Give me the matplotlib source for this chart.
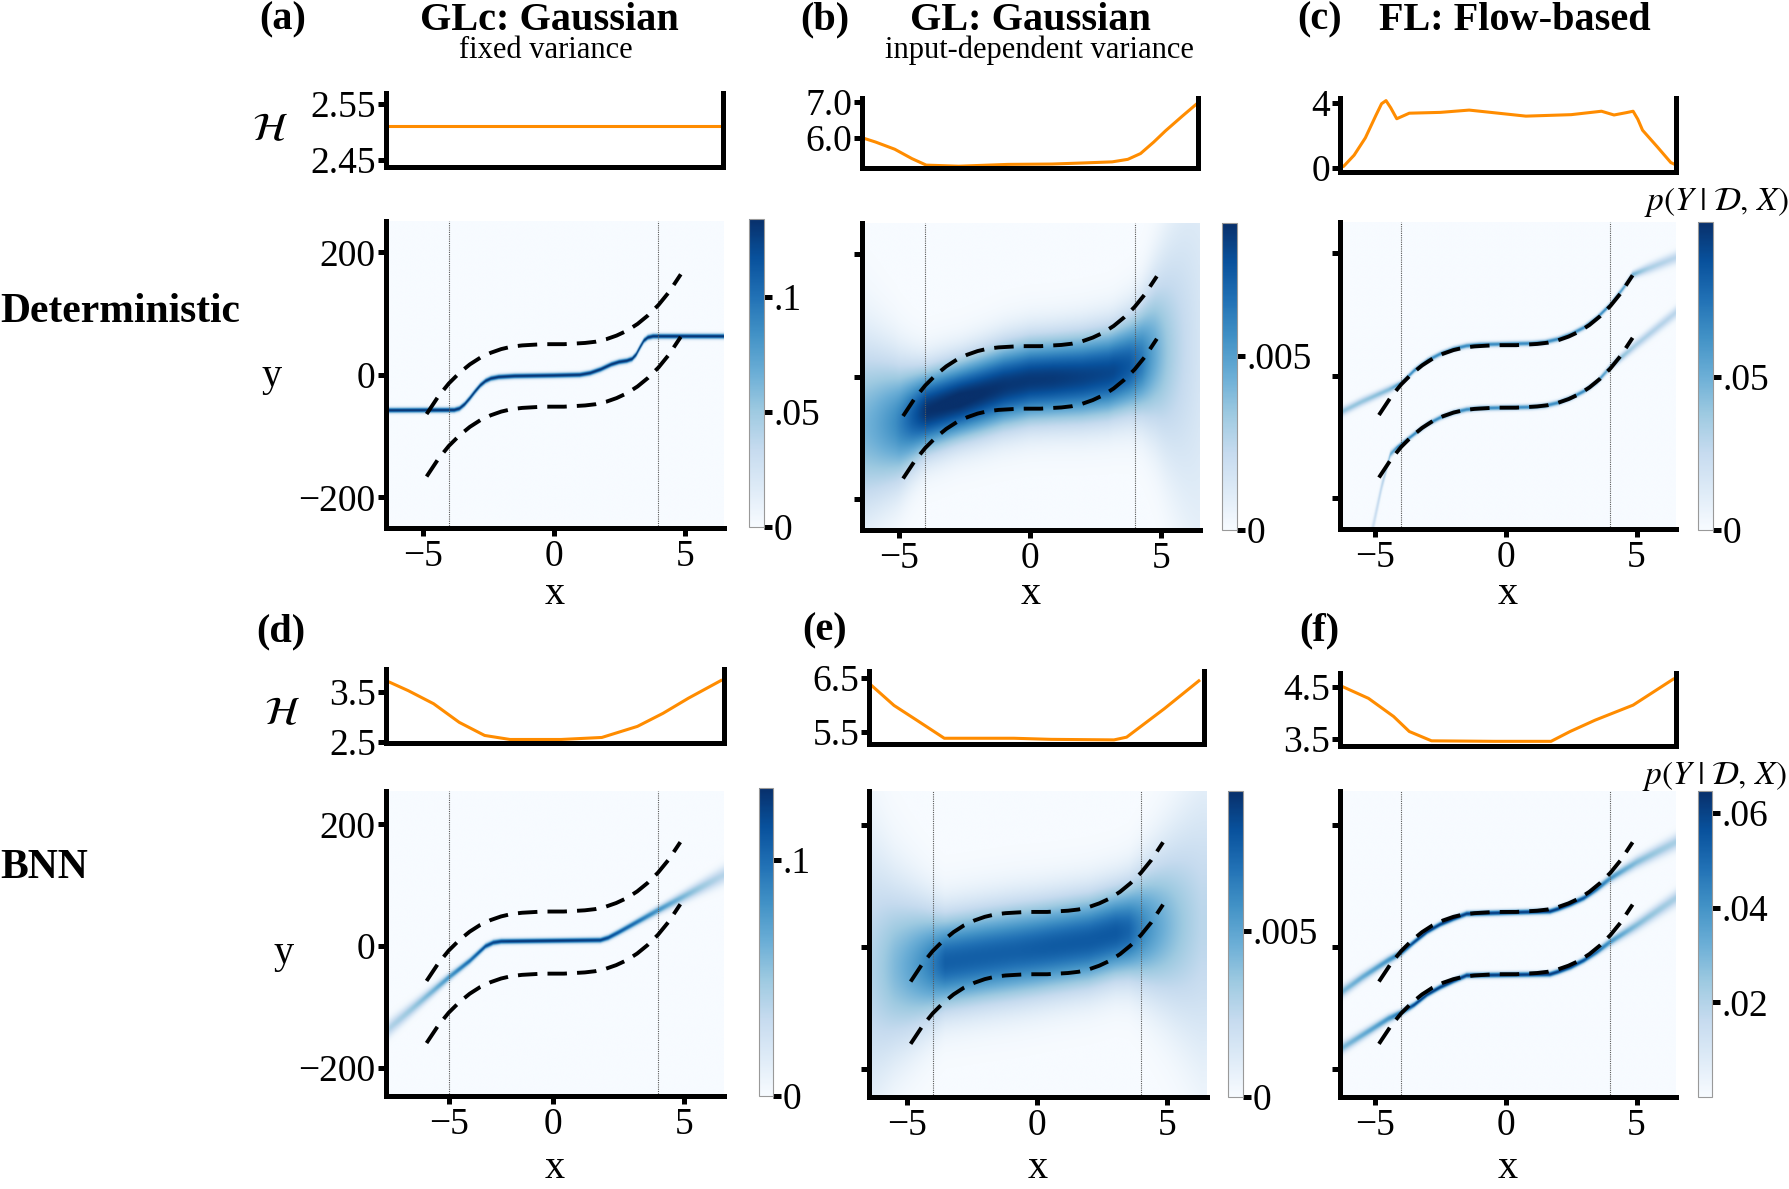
import numpy as np
import matplotlib
matplotlib.use("Agg")
import matplotlib.pyplot as plt

plt.rcParams['font.family'] = ['Liberation Serif', 'DejaVu Serif']
plt.rcParams['mathtext.fontset'] = 'stix'

FIG_W, FIG_H = 1790, 1189

# ------------------------------------------------------------------ data
# dashed curves = the two true modes: centre +/- gap
mode_x = [-4.85, -4.4, -4.0, -3.6, -3.2, -2.8, -2.4, -2.0, -1.6, -1.2, -0.8, -0.4,
          0.0, 0.4, 0.8, 1.2, 1.6, 2.0, 2.4, 2.8, 3.2, 3.6, 4.0, 4.4, 4.85]
mode_centre = [-114, -85, -64, -47, -33, -22, -14, -8, -4, -2, -1, 0,
               0, 0, 1, 2, 4, 8, 14, 22, 33, 47, 64, 85, 114]
mode_gap = 51
mode_shift_top = -1
mode_shift_bottom = 6
train_edges = [-4, 4]

# entropy curves H(x)
ent_a_x = [-6.4, 6.5]
ent_a = [2.51, 2.51]
ent_b_x = [-6.42, -5.9, -5.16, -4.5, -3.95, -2.7, -0.8, 0.89, 2.1, 3.2, 3.8, 4.29, 4.8, 5.25, 5.9, 6.47]
ent_b = [6.0, 5.88, 5.68, 5.42, 5.24, 5.21, 5.26, 5.27, 5.3, 5.33, 5.4, 5.56, 5.88, 6.19, 6.6, 6.95]
ent_c_x = [-6.34, -6.2, -5.8, -5.37, -4.96, -4.75, -4.58, -4.4, -4.17, -3.69, -2.5, -1.4,
           0.77, 2.5, 3.66, 4.14, 4.6, 4.87, 5.05, 5.23, 5.8, 6.31, 6.51]
ent_c = [0.02, 0.12, 0.8, 1.86, 3.26, 3.95, 4.14, 3.7, 3.03, 3.37, 3.42, 3.56,
         3.19, 3.28, 3.49, 3.26, 3.4, 3.49, 3.0, 2.33, 1.3, 0.35, 0.2]
ent_d_x = [-6.4, -5.55, -4.58, -3.6, -2.63, -1.66, 0.29, 1.85, 3.21, 4.19, 5.16, 6.4]
ent_d = [3.72, 3.52, 3.26, 2.89, 2.63, 2.55, 2.55, 2.59, 2.81, 3.07, 3.37, 3.72]
ent_e_x = [-6.41, -5.48, -4.63, -3.53, -0.83, 0.61, 3.05, 3.54, 5.0, 6.34]
ent_e = [6.38, 5.99, 5.73, 5.39, 5.39, 5.37, 5.36, 5.41, 5.93, 6.44]
ent_f_x = [-6.3, -5.25, -4.29, -3.69, -2.84, -0.44, 1.73, 2.46, 3.42, 4.87, 6.4]
ent_f = [4.52, 4.28, 3.93, 3.64, 3.46, 3.45, 3.45, 3.64, 3.86, 4.15, 4.65]

# predictive means of the Gaussian models
mean_a_x = [-6.4, -3.8, -3.6, -3.4, -3.2, -3.0, -2.8, -2.6, -2.4, -2.1, -1.5, 0.0, 1.0,
            1.4, 1.8, 2.2, 2.5, 2.8, 3.0, 3.15, 3.3, 3.45, 3.6, 3.8, 6.5]
mean_a = [-58, -57.5, -55, -48, -38, -27, -17, -10, -6, -3.5, -2, -1, 0,
          3, 9, 17, 21, 23, 26, 33, 45, 56, 61, 63, 63]
mean_b_x = [-6.42, -5.0, -4.0, -3.0, -2.0, -1.0, 0.0, 1.0, 2.0, 3.0, 4.0, 4.8, 6.5]
mean_b = [-80, -75, -56, -42, -29, -15, -6, -3, 0, 6, 21, 38, 50]
mean_d_x = [-6.4, -4.0, -3.2, -2.9, -2.6, -2.3, -2.0, 1.8, 2.1, 2.5, 4.0, 6.52]
mean_d = [-139, -51, -24, -12, 0, 6, 8, 10, 14, 23, 59, 117]
mean_e_x = [-6.45, -5.0, -4.0, -2.0, 0.0, 2.0, 3.0, 4.0, 5.0, 6.54]
mean_e = [-35, -32, -28, -15, -3, 10, 22, 30, 35, 40]

# flow models: two branches (mean and spread)
flow_c_up_x = [-6.34, -5.5, -4.5, -4.0, -3.5, -3.0, -2.5, -2.0, -1.5, -1.0, 0.0,
               1.0, 1.5, 2.0, 2.5, 3.0, 3.5, 4.0, 4.5, 4.85, 5.5, 6.51]
flow_c_up = [-60, -42, -23, -12, 9, 25, 36, 44, 49, 51, 52,
             53, 55, 60, 68, 79, 95, 116, 143, 165, 176, 193]
flow_c_up_sd = [5, 5, 4.5, 3, 3, 3, 3, 3, 3, 3, 3,
                3, 3, 3, 3, 3, 3, 3, 3.5, 4, 6, 7]
flow_c_lo_x = [-6.34, -5.2, -5.06, -4.75, -4.42, -4.16, -3.5, -3.0, -2.5, -2.0, -1.5,
               -1.0, 0.0, 1.0, 1.5, 2.0, 2.5, 3.0, 3.5, 4.04, 5.0, 6.51]
flow_c_lo = [-420, -270, -242, -180, -128, -117, -95, -79, -68, -60, -55,
             -53, -52, -51, -49, -44, -36, -25, -10, 16, 51, 103]
flow_c_lo_sd = [10, 10, 9, 7, 4, 3, 3, 3, 3, 3, 3,
                3, 3, 3, 3, 3, 3, 3, 3, 4, 6, 7]

flow_f_x = [-6.5, -5.5, -4.5, -4.0, -3.5, -3.0, -2.5, -2.0, -1.5, 1.7, 2.0,
            2.5, 3.0, 3.5, 4.0, 5.0, 6.5]
flow_f_up = [-81, -50, -22, -10, 8, 25, 37, 46, 54, 58, 62,
             70, 80, 95, 112, 138, 171]
flow_f_lo = [-172, -145, -118, -108, -95, -78, -66, -56, -47, -45, -41,
             -33, -22, -8, 8, 35, 79]
flow_f_sd = [7, 6, 5, 4, 3.3, 3.2, 3.2, 3.2, 3.2, 3.2, 3.2,
             3.3, 3.5, 4, 5, 7, 9]

# colour-bar ranges and ticks
vmax_a, vmax_b, vmax_c = 0.134, 0.0088, 0.1007
vmax_d, vmax_e, vmax_f = 0.1304, 0.0092, 0.0647
cb_ticks_a, cb_labels_a = [0, 0.05, 0.1], ['0', '.05', '.1']
cb_ticks_b, cb_labels_b = [0, 0.005], ['0', '.005']
cb_ticks_c, cb_labels_c = [0, 0.05], ['0', '.05']
cb_ticks_d, cb_labels_d = [0, 0.1], ['0', '.1']
cb_ticks_e, cb_labels_e = [0, 0.005], ['0', '.005']
cb_ticks_f, cb_labels_f = [0.02, 0.04, 0.06], ['.02', '.04', '.06']

# entropy axis ticks
ent_ticks_a, ent_labels_a = [2.45, 2.55], ['2.45', '2.55']
ent_ticks_b, ent_labels_b = [6.0, 7.0], ['6.0', '7.0']
ent_ticks_c, ent_labels_c = [0, 4], ['0', '4']
ent_ticks_d, ent_labels_d = [2.5, 3.5], ['2.5', '3.5']
ent_ticks_e, ent_labels_e = [5.5, 6.5], ['5.5', '6.5']
ent_ticks_f, ent_labels_f = [3.5, 4.5], ['3.5', '4.5']

y_ticks = [-200, 0, 200]
y_labels = ['\u2212200', '0', '200']
x_ticks = [-5, 0, 5]
x_ticks_d = [-4, 0, 5]          # panel (d) has its "-5" tick on the x=-4 line
x_labels = ['\u22125', '0', '5']

# ------------------------------------------------------------------ helpers
LOG_2PIE = 0.5 * np.log(2 * np.pi * np.e)
ORANGE = '#ff8c00'
SPINE_W = 3.6
TICK_FS = 27


def px_rect(l, t, r, b):
    return [l / FIG_W, 1 - b / FIG_H, (r - l) / FIG_W, (b - t) / FIG_H]


def ftext(x, y, s, **kw):
    fig.text(x / FIG_W, 1 - y / FIG_H, s, ha=kw.pop('ha', 'center'),
             va=kw.pop('va', 'center'), **kw)


def gauss(gy, mu, sd):
    return (np.exp(-0.5 * ((gy[:, None] - mu[None, :]) / sd[None, :]) ** 2)
            / (sd[None, :] * np.sqrt(2 * np.pi)))


def gaussian_density(gx, gy, mx, my, ex, ey):
    mu = np.interp(gx, mx, my)
    sd = np.exp(np.interp(gx, ex, ey) - LOG_2PIE)
    return gauss(gy, mu, sd)


def flow_density(gx, gy, branches):
    dens = np.zeros((len(gy), len(gx)))
    for bx, bm, bs in branches:
        dens += 0.5 * gauss(gy, np.interp(gx, bx, bm), np.interp(gx, bx, bs))
    return dens


fig = plt.figure(figsize=(FIG_W / 100, FIG_H / 100), dpi=100)

panels = [
    dict(heat=(386, 221, 724, 528), ent=(386, 93, 723, 167), cb=(749, 219, 764, 527),
         xlim=(-6.4, 6.5), ylim=(-250, 251), ent_lim=(2.437, 2.57), shift=mode_shift_top,
         ex=ent_a_x, ey=ent_a, et=(ent_ticks_a, ent_labels_a), vmax=vmax_a,
         cbt=(cb_ticks_a, cb_labels_a), kind='gauss', mean=(mean_a_x, mean_a),
         ylab=True, xt=x_ticks),
    dict(heat=(862, 223, 1200, 530), ent=(862, 98, 1198, 168), cb=(1222, 223, 1237, 530),
         xlim=(-6.42, 6.5), ylim=(-250, 251), ent_lim=(5.16, 7.1), shift=mode_shift_top,
         ex=ent_b_x, ey=ent_b, et=(ent_ticks_b, ent_labels_b), vmax=vmax_b,
         cbt=(cb_ticks_b, cb_labels_b), kind='gauss', mean=(mean_b_x, mean_b),
         ylab=False, xt=x_ticks),
    dict(heat=(1340, 222, 1676, 529), ent=(1340, 98, 1676, 172), cb=(1698, 222, 1713, 530),
         xlim=(-6.34, 6.51), ylim=(-250, 251), ent_lim=(-0.23, 4.3), shift=mode_shift_top,
         ex=ent_c_x, ey=ent_c, et=(ent_ticks_c, ent_labels_c), vmax=vmax_c,
         cbt=(cb_ticks_c, cb_labels_c), kind='flow',
         branches=[(flow_c_up_x, flow_c_up, flow_c_up_sd),
                   (flow_c_lo_x, flow_c_lo, flow_c_lo_sd)],
         ylab=False, xt=x_ticks),
    dict(heat=(386, 791, 724, 1096), ent=(386, 669, 724, 743), cb=(759, 788, 773, 1096),
         xlim=(-6.4, 6.52), ylim=(-246, 255), ent_lim=(2.48, 3.95), shift=mode_shift_bottom,
         ex=ent_d_x, ey=ent_d, et=(ent_ticks_d, ent_labels_d), vmax=vmax_d,
         cbt=(cb_ticks_d, cb_labels_d), kind='gauss', mean=(mean_d_x, mean_d),
         ylab=True, xt=x_ticks_d),
    dict(heat=(869, 791, 1207, 1097), ent=(869, 671, 1204, 744), cb=(1228, 791, 1243, 1097),
         xlim=(-6.45, 6.54), ylim=(-246, 255), ent_lim=(5.285, 6.62), shift=mode_shift_bottom,
         ex=ent_e_x, ey=ent_e, et=(ent_ticks_e, ent_labels_e), vmax=vmax_e,
         cbt=(cb_ticks_e, cb_labels_e), kind='gauss', mean=(mean_e_x, mean_e),
         ylab=False, xt=x_ticks),
    dict(heat=(1340, 791, 1676, 1097), ent=(1340, 673, 1676, 746), cb=(1698, 791, 1712, 1097),
         xlim=(-6.34, 6.51), ylim=(-246, 255), ent_lim=(3.36, 4.77), shift=mode_shift_bottom,
         ex=ent_f_x, ey=ent_f, et=(ent_ticks_f, ent_labels_f), vmax=vmax_f,
         cbt=(cb_ticks_f, cb_labels_f), kind='flow',
         branches=[(flow_f_x, flow_f_up, flow_f_sd),
                   (flow_f_x, flow_f_lo, flow_f_sd)],
         ylab=False, xt=x_ticks),
]

mx = np.array(mode_x)
mc = np.array(mode_centre)

for p in panels:
    x0, x1 = p['xlim']
    y0, y1 = p['ylim']
    gx = np.linspace(x0, x1, 700)
    gy = np.linspace(y0, y1, 1200)
    if p['kind'] == 'gauss':
        dens = gaussian_density(gx, gy, p['mean'][0], p['mean'][1], p['ex'], p['ey'])
    else:
        dens = flow_density(gx, gy, p['branches'])

    # heat map
    ax = fig.add_axes(px_rect(*p['heat']))
    im = ax.imshow(dens, extent=[x0, x1, y0, y1], origin='lower', aspect='auto',
                   cmap='Blues', vmin=0, vmax=p['vmax'], interpolation='bilinear')
    for xe in train_edges:
        ax.axvline(xe, color='0.35', lw=0.8, ls=(0, (1, 1)))
    ax.plot(mx, mc + p['shift'] + mode_gap, color='black', lw=2.8, dashes=(5, 2.6))
    ax.plot(mx, mc + p['shift'] - mode_gap, color='black', lw=2.8, dashes=(5, 2.6))
    ax.set_xlim(x0, x1)
    ax.set_ylim(y0, y1)
    for s in ['top', 'right']:
        ax.spines[s].set_visible(False)
    for s in ['left', 'bottom']:
        ax.spines[s].set_linewidth(SPINE_W)
    ax.set_xticks(p['xt'])
    ax.set_xticklabels(x_labels)
    ax.set_yticks(y_ticks)
    ax.set_yticklabels(y_labels if p['ylab'] else [])
    ax.tick_params(length=6, width=SPINE_W, labelsize=TICK_FS, pad=2)

    # colour bar
    cax = fig.add_axes(px_rect(*p['cb']))
    cb = fig.colorbar(im, cax=cax)
    cb.outline.set_edgecolor('0.6')
    cb.outline.set_linewidth(0.8)
    cb.set_ticks(p['cbt'][0])
    cb.set_ticklabels(p['cbt'][1])
    cax.tick_params(length=6, width=SPINE_W, labelsize=TICK_FS, pad=1)

    # entropy strip
    eax = fig.add_axes(px_rect(*p['ent']))
    eax.plot(p['ex'], p['ey'], color=ORANGE, lw=2.2)
    eax.set_xlim(x0, x1)
    eax.set_ylim(*p['ent_lim'])
    eax.spines['top'].set_visible(False)
    for s in ['left', 'right', 'bottom']:
        eax.spines[s].set_linewidth(SPINE_W)
    eax.set_xticks([])
    eax.set_yticks(p['et'][0])
    eax.set_yticklabels(p['et'][1])
    eax.tick_params(axis='y', length=6, width=SPINE_W, labelsize=TICK_FS, pad=1)

    # x label
    l, t, r, b = p['heat']
    ftext((l + r) / 2, 594 if t < 600 else 1168, 'x', fontsize=29)

# ------------------------------------------------------------------ text
ftext(283, 20, '(a)', fontsize=29, fontweight='bold')
ftext(549, 20, 'GLc: Gaussian', fontsize=29, fontweight='bold')
ftext(546, 50, 'fixed variance', fontsize=22)
ftext(825, 20, '(b)', fontsize=29, fontweight='bold')
ftext(1030, 20, 'GL: Gaussian', fontsize=29, fontweight='bold')
ftext(1039, 50, 'input-dependent variance', fontsize=22)
ftext(1320, 20, '(c)', fontsize=29, fontweight='bold')
ftext(1515, 20, 'FL: Flow-based', fontsize=29, fontweight='bold')
ftext(281, 632, '(d)', fontsize=29, fontweight='bold')
ftext(825, 631, '(e)', fontsize=29, fontweight='bold')
ftext(1319, 631, '(f)', fontsize=29, fontweight='bold')

ftext(0, 312, 'Deterministic', fontsize=30, fontweight='bold', ha='left')
ftext(0, 868, 'BNN', fontsize=30, fontweight='bold', ha='left')

ftext(272, 376, 'y', fontsize=29)
ftext(284, 953, 'y', fontsize=29)
ftext(270, 131, r'$\mathcal{H}$', fontsize=29)
ftext(282, 715, r'$\mathcal{H}$', fontsize=29)

cb_label = r'$p(Y\;|\;\mathcal{D},\,X)$'
ftext(1716, 202, cb_label, fontsize=24)
ftext(1714, 776, cb_label, fontsize=24)

fig.savefig('out.png', dpi=100)
